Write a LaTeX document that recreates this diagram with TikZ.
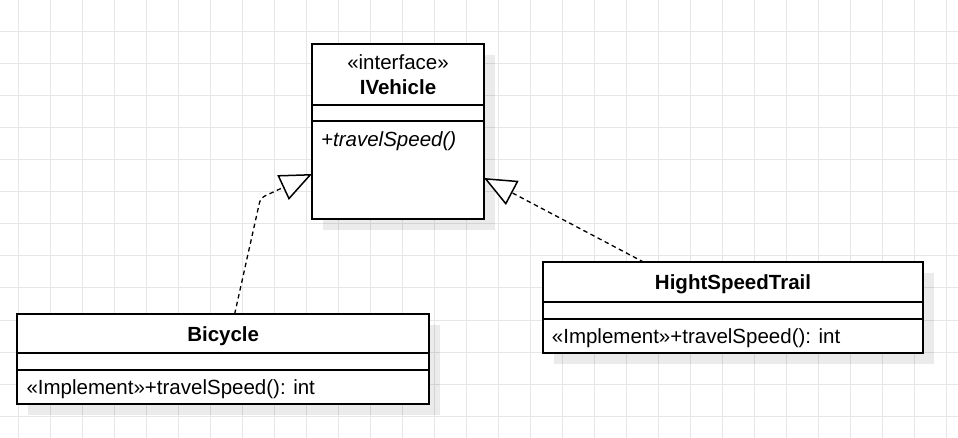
\documentclass[tikz,border=0pt]{standalone}
\usepackage{fontspec}
\setmainfont{Liberation Sans}
\usepackage{tikz}
\usetikzlibrary{arrows.meta,positioning,calc,backgrounds}
\definecolor{gridgray}{HTML}{E6E6E6}
\definecolor{ink}{HTML}{000000}
\newcommand{\umlfont}{\fontsize{20.5}{24.5}\selectfont}
\tikzset{
    classpart/.style={draw=ink,fill=white,line width=1.7pt,inner sep=0pt,
      outer sep=0pt,font=\umlfont,align=center,text depth=0pt},
    member/.style={inner sep=0pt,anchor=west,font=\umlfont,text=ink,text depth=0pt},
    shadowbox/.style={fill=black,fill opacity=0.08,draw=none},
    gridline/.style={draw=gridgray,line width=1pt},
    realize/.style={draw=ink,line width=1.3pt,dash pattern=on 4.5pt off 3.5pt,
      -{Triangle[fill=white,length=32pt,width=27pt,line width=1.5pt,sep=0pt]}}
}
\begin{document}
\begin{tikzpicture}[x=1pt,y=-1pt]
  \useasboundingbox (0,0) rectangle (958,438);

  % interface
  \node[classpart,minimum width=172,minimum height=61.3,anchor=north west] (ivHead) at (312,44)
    {«interface»\\\textbf{IVehicle}};
  \node[classpart,minimum width=172,minimum height=15.7,below=0pt of ivHead] (ivAttr) {};
  \node[classpart,minimum width=172,minimum height=98,below=0pt of ivAttr] (ivOps) {};
  \node[member] (ivOp) at ($(ivOps.north west)+(9,18)$) {\itshape +travelSpeed()};

  % implementations
  \node[classpart,minimum width=411.7,minimum height=39.3,anchor=north west] (bicHead) at (17.3,314)
    {\textbf{Bicycle}};
  \node[classpart,minimum width=411.7,minimum height=16.7,below=0pt of bicHead] (bicAttr) {};
  \node[classpart,minimum width=411.7,minimum height=34,below=0pt of bicAttr] (bicOps) {};
  \node[member] (bicOp) at ($(bicOps.west)+(9,0)$) {«Implement»+travelSpeed(): int};

  \node[classpart,minimum width=380.6,minimum height=40,anchor=north west] (hstHead) at (542.7,262.3)
    {\textbf{HightSpeedTrail}};
  \node[classpart,minimum width=380.6,minimum height=16.7,below=0pt of hstHead] (hstAttr) {};
  \node[classpart,minimum width=380.6,minimum height=34.3,below=0pt of hstAttr] (hstOps) {};
  \node[member] (hstOp) at ($(hstOps.west)+(9,0)$) {«Implement»+travelSpeed(): int};

  % realization
  \coordinate (bend) at (260.5,198);
  \draw[realize,rounded corners=5pt] ($(bicHead.north)+(11.5,0)$) -- (bend) -- ($(ivOps.west)+(0,4)$);
  \draw[realize] ($(hstHead.north)+(-89,0)$) -- ($(ivOps.east)+(0,8)$);

  \begin{scope}[on background layer]
    \fill[white] (0,0) rectangle (958,438);
    \foreach \x in {18,50,...,946}
      \draw[gridline] (\x,0) -- (\x,438);
    \foreach \y in {0,32,...,416}
      \draw[gridline] (0,\y) -- (958,\y);
    \foreach \a/\b in {ivHead/ivOps,bicHead/bicOps,hstHead/hstOps}
      \fill[shadowbox] ($(\a.north west)+(11,11)$) rectangle ($(\b.south east)+(11,11)$);
  \end{scope}
\end{tikzpicture}
\end{document}
